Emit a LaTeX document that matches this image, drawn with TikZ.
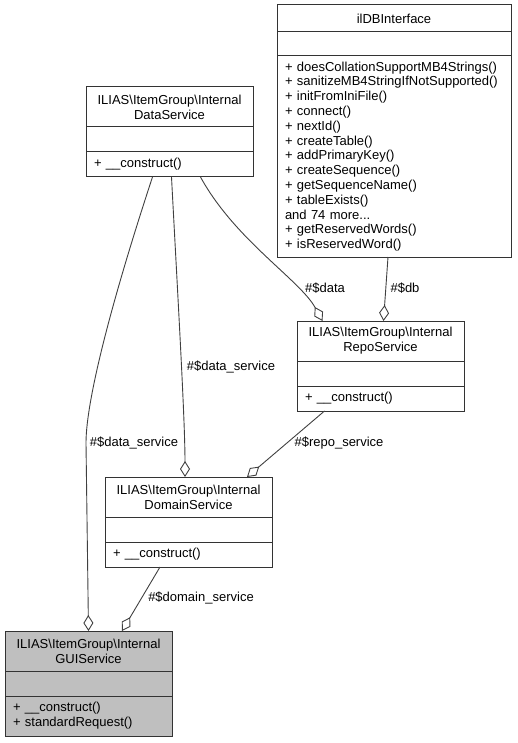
\documentclass[tikz,border=0pt]{standalone}
\usepackage{fontspec}
\setmainfont{Liberation Sans}
\usetikzlibrary{positioning,arrows.meta}
\definecolor{boxline}{HTML}{333333}
\definecolor{edgegray}{HTML}{404040}
\definecolor{focusfill}{HTML}{BFBFBF}

\begin{document}
\begin{tikzpicture}[x=1pt, y=-1pt,
        txt/.style={font=\fontsize{13}{14.8}\selectfont},
        part/.style={txt, draw=boxline, line width=1pt, fill=white, inner xsep=8pt, inner ysep=0pt, outer sep=0pt, anchor=north west},
        head/.style={part, text width=151pt, align=center, minimum height=40pt},
        attrs/.style={part, text width=151pt, minimum height=25pt},
        meths/.style={part, text width=151pt, align=left, minimum height=25pt},
        aggr/.style={draw=edgegray, line width=0.9pt, -{Diamond[open, length=16pt, width=10pt]}},
        lbl/.style={txt, inner sep=0pt}]
        \useasboundingbox (0,0) rectangle (517,743);

        % ilDBInterface
        \node[part, text width=218pt, align=center, minimum height=27pt] (dbH) at (277,5) {ilDBInterface};
        \node[part, text width=218pt, minimum height=24pt, below=0pt of dbH] (dbA) {};
        \node[part, text width=218pt, align=left, minimum height=201pt, below=0pt of dbA] (dbM) {+ doesCollationSupportMB4Strings()\\+ sanitizeMB4StringIfNotSupported()\\+ initFromIniFile()\\+ connect()\\+ nextId()\\+ createTable()\\+ addPrimaryKey()\\+ createSequence()\\+ getSequenceName()\\+ tableExists()\\and 74 more...\\+ getReservedWords()\\+ isReservedWord()};

        % DataService
        \node[head] (dataH) at (86,87) {ILIAS\textbackslash ItemGroup\textbackslash Internal\\DataService};
        \node[attrs, below=0pt of dataH] (dataA) {};
        \node[meths, below=0pt of dataA] (dataM) {+ \_\_construct()};

        % RepoService
        \node[head] (repoH) at (297,321) {ILIAS\textbackslash ItemGroup\textbackslash Internal\\RepoService};
        \node[attrs, below=0pt of repoH] (repoA) {};
        \node[meths, below=0pt of repoA] (repoM) {+ \_\_construct()};

        % DomainService
        \node[head] (domH) at (105,477) {ILIAS\textbackslash ItemGroup\textbackslash Internal\\DomainService};
        \node[attrs, below=0pt of domH] (domA) {};
        \node[meths, below=0pt of domA] (domM) {+ \_\_construct()};

        % GUIService
        \node[head, fill=focusfill] (guiH) at (5,631) {ILIAS\textbackslash ItemGroup\textbackslash Internal\\GUIService};
        \node[attrs, fill=focusfill, below=0pt of guiH] (guiA) {};
        \node[meths, fill=focusfill, minimum height=40pt, below=0pt of guiA] (guiM) {+ \_\_construct()\\+ standardRequest()};

        % aggregations
        \draw[aggr] ([xshift=-17pt]dataM.south) .. controls (112,300) and (86,400) .. (86,443) -- (guiH.north);
        \draw[aggr] ([xshift=2pt]dataM.south) .. controls (178,300) and (185,420) .. ([xshift=-3.5pt]domH.north);
        \draw[aggr] ([xshift=31pt]dataM.south) .. controls (235,240) and (300,280) .. ([xshift=-58pt]repoH.north);
        \draw[aggr] ([xshift=-6pt]dbM.south) -- ([xshift=3pt]repoH.north);
        \draw[aggr] ([xshift=-56pt]repoM.south) -- ([xshift=58.5pt]domH.north);
        \draw[aggr] ([xshift=-28.5pt]domM.south) -- ([xshift=33.5pt]guiH.north);

        \node[lbl] (l1) at (134,443) {\#\$data\_service};
        \node[lbl] (l2) at (231,367) {\#\$data\_service};
        \node[lbl] (l3) at (325,288) {\#\$data};
        \node[lbl] (l4) at (405,288) {\#\$db};
        \node[lbl] (l5) at (339,443) {\#\$repo\_service};
        \node[lbl] (l6) at (201,598) {\#\$domain\_service};
\end{tikzpicture}
\end{document}
